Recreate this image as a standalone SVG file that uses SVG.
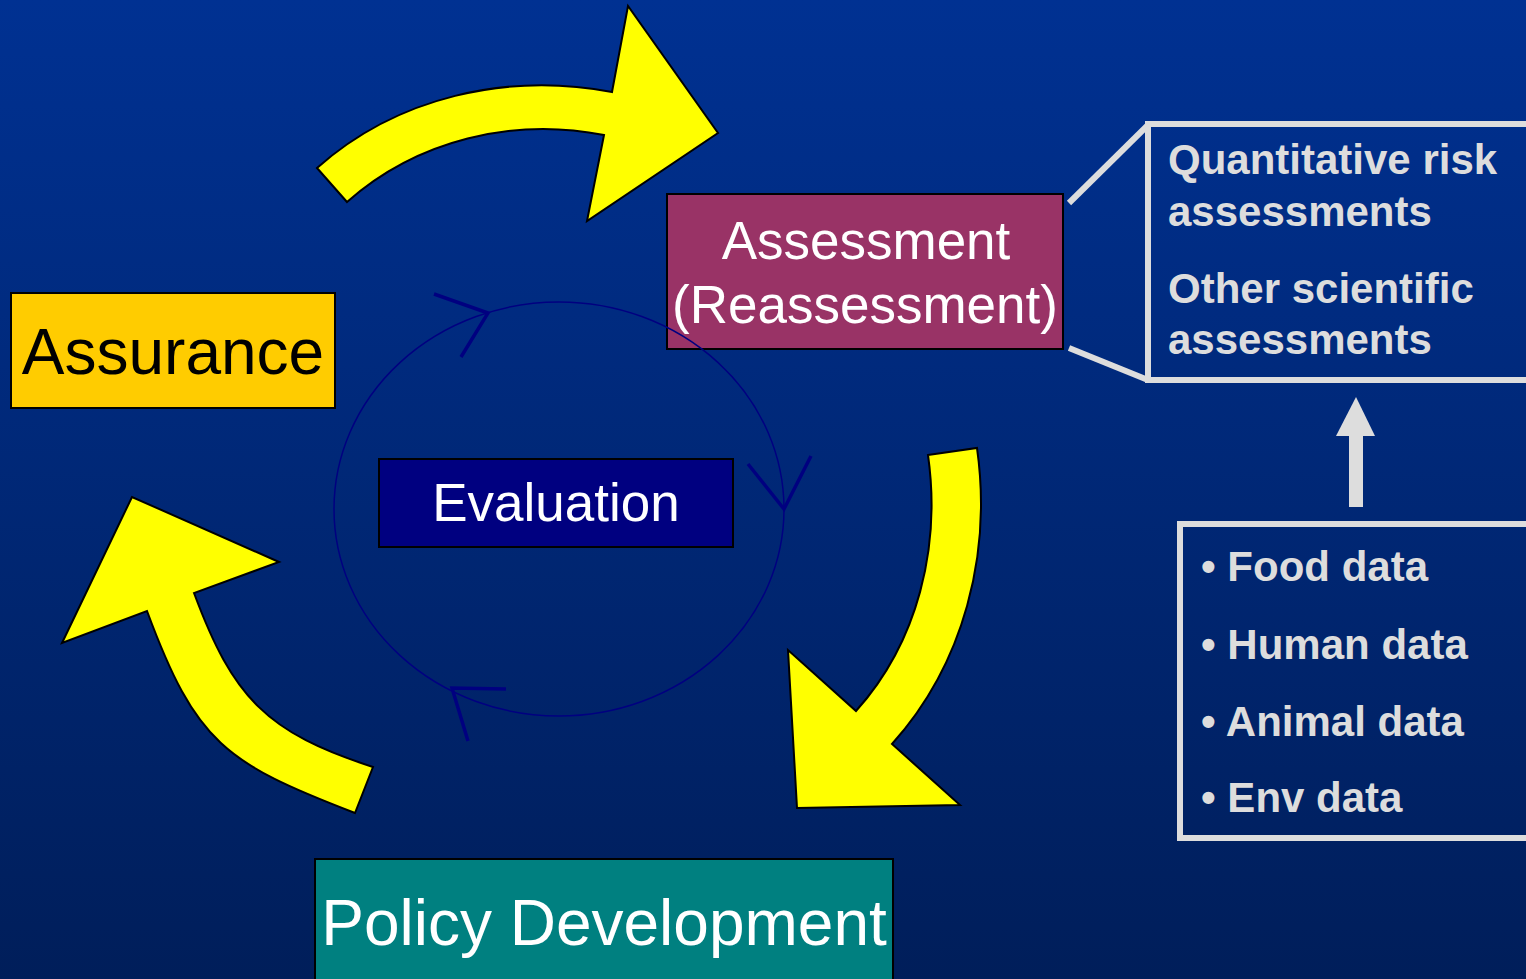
<svg xmlns="http://www.w3.org/2000/svg" width="1526" height="979" viewBox="0 0 1526 979">
<defs>
<linearGradient id="bg" x1="0" y1="0" x2="0" y2="1">
<stop offset="0" stop-color="#003192"/>
<stop offset="1" stop-color="#001e5a"/>
</linearGradient>
<style>
.box{stroke:#000;stroke-width:2}
.lbl{font-family:"Liberation Sans",Arial,sans-serif;text-anchor:middle}
.yarrow{fill:#ffff00;stroke:#000;stroke-width:2;stroke-linejoin:miter}
.cyc{fill:none;stroke:#000080;stroke-width:1.5}
.chev{fill:none;stroke:#000080;stroke-width:3.5}
.gl{fill:none;stroke:#dddddd;stroke-width:6}
.gt{font-family:"Liberation Sans",Arial,sans-serif;font-weight:bold;fill:#dddddd}
</style>
</defs>
<rect x="0" y="0" width="1526" height="979" fill="url(#bg)"/>

<g id="connectors">
<path class="yarrow" d="M317,168 C397,97 507,72 612,92 L628,6 L718,133 L587,221 L604,135 C513,117 417,140 347,202 Z"/>
<path class="yarrow" d="M928,455 L977,448 C992,554 964,664 892,744 L960,805 L797,808 L788,650 L856,711 C918,642 941,547 928,455 Z"/>
<path class="yarrow" d="M373,767 L355,813 C225,763 196,743 147,611 L62,643 L132,497 L279,562 L194,593 C233,698 267,733 373,767 Z"/>
<path class="gl" d="M1069,203 L1147,126"/>
<path class="gl" d="M1069,348 L1148,380"/>
<rect x="1349" y="434" width="14" height="73" fill="#dddddd"/>
<polygon points="1336,436 1375,436 1356,397" fill="#dddddd"/>
</g>

<g id="assessment">
<rect class="box" x="667" y="194" width="396" height="155" fill="#993366"/>
<text class="lbl" x="866" y="259" font-size="53" fill="#fff">Assessment</text>
<text class="lbl" x="865" y="323" font-size="53" fill="#fff">(Reassessment)</text>
</g>

<g id="evaluation-cycle">
<ellipse class="cyc" cx="559" cy="509" rx="225" ry="207"/>
<path class="chev" d="M434,294 L488,313 L461,357"/>
<path class="chev" d="M748,464 L784,509 L811,456"/>
<path class="chev" d="M506,689 L452,688 L468,741"/>
</g>

<g id="evaluation">
<rect class="box" x="379" y="459" width="354" height="88" fill="#000080"/>
<text class="lbl" x="556" y="521" font-size="53" fill="#fff">Evaluation</text>
</g>

<g id="assurance">
<rect class="box" x="11" y="293" width="324" height="115" fill="#ffcc00"/>
<text class="lbl" x="173" y="374" font-size="64" fill="#000">Assurance</text>
</g>

<g id="policy">
<rect class="box" x="315" y="859" width="578" height="130" fill="#008080"/>
<text class="lbl" x="604" y="945" font-size="64" fill="#fff">Policy Development</text>
</g>

<g id="assessments-box">
<rect class="gl" x="1148" y="124" width="400" height="256"/>
<text class="gt" x="1168" y="174" font-size="42">Quantitative risk</text>
<text class="gt" x="1168" y="226" font-size="42">assessments</text>
<text class="gt" x="1168" y="303" font-size="42">Other scientific</text>
<text class="gt" x="1168" y="354" font-size="42">assessments</text>
</g>

<g id="data-box">
<rect class="gl" x="1180" y="524" width="380" height="314"/>
<text class="gt" x="1201" y="581" font-size="42">• Food data</text>
<text class="gt" x="1201" y="659" font-size="42">• Human data</text>
<text class="gt" x="1201" y="736" font-size="42">• Animal data</text>
<text class="gt" x="1201" y="812" font-size="42">• Env data</text>
</g>
</svg>
